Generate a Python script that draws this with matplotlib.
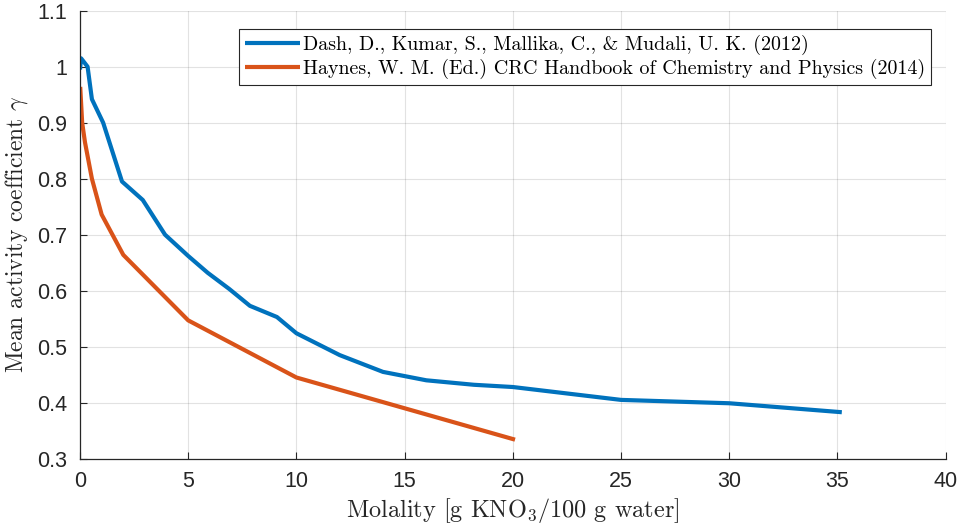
import numpy as np
import matplotlib
matplotlib.use("Agg")
import matplotlib.pyplot as plt

# Dash et al. (2012)
dash_x = [0.0, 0.05, 0.35, 0.55, 1.07, 1.94, 2.9, 3.93, 5.0, 5.9, 6.9, 7.85, 9.1,
          10.0, 12.0, 14.0, 16.0, 18.2, 20.0, 25.0, 30.0, 35.2]
dash_y = [0.995, 1.015, 1.0, 0.942, 0.90, 0.795, 0.762, 0.70, 0.662, 0.632, 0.603,
          0.573, 0.553, 0.524, 0.485, 0.455, 0.440, 0.432, 0.428, 0.405, 0.399, 0.383]

# CRC Handbook (2014)
crc_x = [0.01, 0.1, 0.23, 0.55, 1.0, 2.0, 5.0, 10.0, 20.1]
crc_y = [0.964, 0.90, 0.865, 0.80, 0.736, 0.664, 0.547, 0.445, 0.334]

labels = ["Dash, D., Kumar, S., Mallika, C., & Mudali, U. K. (2012)",
          "Haynes, W. M. (Ed.) CRC Handbook of Chemistry and Physics (2014)"]

plt.rcParams["mathtext.fontset"] = "cm"
serif = "cmr10"
sans = "Liberation Sans"

fig = plt.figure(figsize=(9.63, 5.30), dpi=100)
ax = fig.add_axes([80 / 963, 1 - 458.7 / 530, (945.7 - 80) / 963, (458.7 - 10.7) / 530])

ax.plot(dash_x, dash_y, color="#0072BD", lw=3, label=labels[0], solid_capstyle="butt")
ax.plot(crc_x, crc_y, color="#D95319", lw=3, label=labels[1], solid_capstyle="butt")

ax.set_xlim(0, 40)
ax.set_ylim(0.3, 1.1)
ax.set_xticks(np.arange(0, 41, 5))
ax.set_yticks(np.round(np.arange(0.3, 1.11, 0.1), 1))
ax.set_yticklabels(["0.3", "0.4", "0.5", "0.6", "0.7", "0.8", "0.9", "1", "1.1"])

ax.grid(True, color="#262626", alpha=0.13, lw=0.8)
ax.set_axisbelow(True)
for s in ["top", "right"]:
    ax.spines[s].set_visible(False)
for s in ["left", "bottom"]:
    ax.spines[s].set_color("#262626")
    ax.spines[s].set_linewidth(0.9)
ax.tick_params(direction="in", length=5, width=0.8, color="#262626",
               labelcolor="#262626", labelsize=15.5, pad=9)
for t in ax.get_xticklabels() + ax.get_yticklabels():
    t.set_family(sans)

ax.set_xlabel(r"Molality [g KNO$_3$/100 g water]", family=serif, fontsize=17.5,
              color="#262626", labelpad=3)
ax.set_ylabel(r"Mean activity coefficient $\gamma$", family=serif, fontsize=17,
              color="#262626", labelpad=5)

leg = ax.legend(loc="upper right", bbox_to_anchor=(0.983, 0.96), prop={"family": serif, "size": 14.4},
                frameon=True, fancybox=False, edgecolor="#262626", framealpha=1,
                handlelength=2.75, handletextpad=0.15, borderpad=0.3, labelspacing=0.2,
                borderaxespad=0)
leg.get_frame().set_linewidth(0.8)

fig.savefig("out.png", dpi=100)
